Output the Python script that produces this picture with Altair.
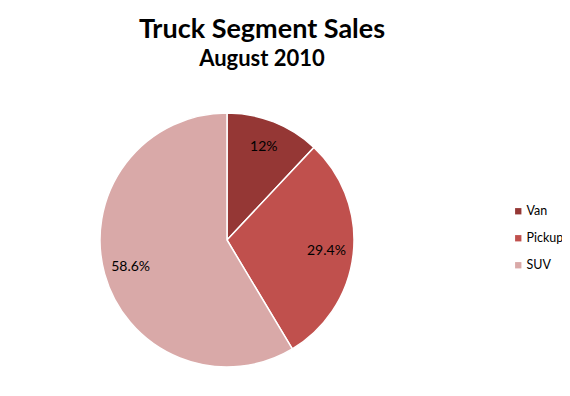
import altair as alt
import pandas as pd

segments = ["Van", "Pickup", "SUV"]
shares = [12.0, 29.4, 58.6]
labels = ["12%", "29.4%", "58.6%"]
colors = ["#953735", "#C0504D", "#D9A9A8"]

df = pd.DataFrame({"segment": segments, "share": shares, "label": labels, "order": [0, 1, 2]})

base = alt.Chart(df).encode(
    theta=alt.Theta("share:Q", stack=True),
    order=alt.Order("order:Q"),
)

arcs = base.mark_arc(outerRadius=127, stroke="white", strokeWidth=1.5).encode(
    color=alt.Color(
        "segment:N",
        scale=alt.Scale(domain=segments, range=colors),
        legend=alt.Legend(
            title=None,
            orient="none",
            legendX=412,
            legendY=92,
            symbolType="square",
            symbolSize=40,
            symbolStrokeWidth=0,
            labelFont="Lato",
            labelFontSize=12.5,
            labelColor="black",
            rowPadding=14,
            labelOffset=2,
        ),
    )
)

texts = base.mark_text(radius=100, font="Lato", fontSize=14, color="black").encode(
    text="label:N"
)

chart = (
    alt.layer(arcs, texts)
    .properties(
        width=254,
        height=254,
        autosize="none",
        padding={"left": 92, "top": 105, "right": 208, "bottom": 21},
        title=alt.TitleParams(
            text="Truck Segment Sales",
            subtitle="August 2010",
            font="Lato",
            fontSize=27,
            fontWeight="bold",
            color="black",
            subtitleFont="Lato",
            subtitleFontSize=22,
            subtitleFontWeight="bold",
            subtitleColor="black",
            subtitlePadding=5,
            anchor="middle",
            dx=35,
            offset=39,
        ),
    )
    .configure_view(stroke=None)
)

chart.save("out.html", embed_options={"renderer": "svg", "actions": False})
